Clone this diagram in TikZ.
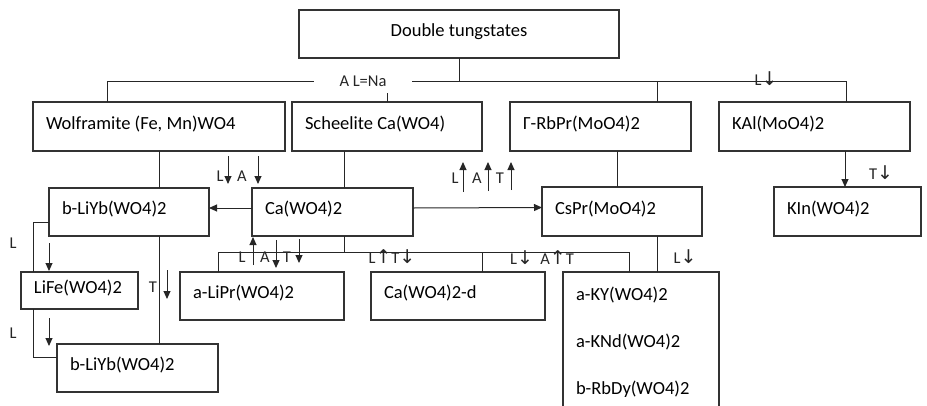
\documentclass[tikz,border=0pt]{standalone}
\usepackage{fontspec}
\setmainfont{Carlito}
\newfontfamily\arrowfont{DejaVu Sans}[Scale=1.15]
\usetikzlibrary{arrows.meta}
\newcommand\arup{{\arrowfont ↑}}
\newcommand\ardn{{\arrowfont ↓}}
\tikzset{
  base/.style={draw=black!80,line width=1.1pt,anchor=north west,outer sep=0pt,
    inner xsep=13pt,inner ysep=0pt,align=flush left,font=\fontsize{18.5}{22}\selectfont},
  box/.style={base,text height=14pt,text depth=8.5pt},
  ln/.style={line width=1pt,black!85},
  ar/.style={ln,-{Triangle[length=8pt,width=7pt]}},
  tag/.style={inner sep=0pt,text=black!85,font=\fontsize{16.5}{18}\selectfont}
}

\begin{document}
\begin{tikzpicture}[x=1pt,y=-1pt]
\useasboundingbox (0,0) rectangle (927,405);
\clip (0,0) rectangle (927,405);
% top rows
\node[box,align=flush center,text width=294pt,minimum height=48pt] (dt) at (299,10) {Double tungstates};
\node[box,text width=226pt,minimum height=49pt] (wolf) at (33,102) {Wolframite (Fe, Mn)WO4};
\node[box,text width=164pt,minimum height=49pt] (sch) at (292,102) {Scheelite Ca(WO4)};
\node[box,text width=155pt,minimum height=49pt] (rbpr) at (510,102) {Γ-RbPr(MoO4)2};
\node[box,text width=165pt,minimum height=49pt] (kal) at (719,102) {KAl(MoO4)2};
% second row
\node[box,text width=134pt,minimum height=48pt] (liyb) at (49,188) {b-LiYb(WO4)2};
\node[box,text width=135pt,minimum height=48pt] (ca) at (252,188) {Ca(WO4)2};
\node[box,text width=134pt,minimum height=49pt] (cspr) at (542,187) {CsPr(MoO4)2};
\node[box,text width=121pt,minimum height=49pt] (kin) at (774,187) {KIn(WO4)2};
% third row
\node[box,text width=91pt,minimum height=37pt] (life) at (21,272) {LiFe(WO4)2};
\node[box,text width=138pt,minimum height=48pt] (lipr) at (180,272) {a-LiPr(WO4)2};
\node[box,text width=148pt,minimum height=48pt] (cad) at (371,272) {Ca(WO4)2-d};
\node[base,text width=130pt,minimum height=140pt,font=\fontsize{18.5}{47}\selectfont] (aky) at (563,272)
  {a-KY(WO4)2\\a-KNd(WO4)2\\b-RbDy(WO4)2};
\node[box,text width=135pt,minimum height=48pt] (liyb2) at (57,344) {b-LiYb(WO4)2};

% upper bus
\coordinate (b1) at (107,81);
\coordinate (b2) at (657,81);
\coordinate (b3) at (846,81);
\node[tag,minimum width=98pt,minimum height=24pt] (alna) at (363,81) {A L=Na};
\draw[ln] (dt.south) -- (dt.south |- b1);
\draw[ln] (wolf.north -| b1) -- (b1) -- (alna.west);
\draw[ln] (alna.east) -- (b3) -- (kal.north -| b3);
\draw[ln] (b2) -- (rbpr.north -| b2);
\draw[ln] (alna.south -| sch.north) -- (sch.north);

% links between rows
\coordinate (cx) at (344,0);
\coordinate (rx) at (617,0);
\coordinate (kx) at (845,0);
\draw[ln] (wolf.south) -- (wolf.south |- liyb.north);
\draw[ln] (wolf.south |- liyb.south) -- (wolf.south |- liyb2.north);
\draw[ln] (cx |- sch.south) -- (cx |- ca.north);
\draw[ln] (rx |- rbpr.south) -- (rx |- cspr.north);
\draw[ar] (kx |- kal.south) -- (kx |- kin.north);
\draw[ln] (b2 |- cspr.south) -- (b2 |- aky.north);
\draw[ar] ([yshift=4pt]ca.west) -- ([yshift=4pt]liyb.east);
\draw[ar] ([yshift=4pt]ca.east) -- ([yshift=4pt]cspr.west);

% lower bus
\coordinate (t1) at (218,252);
\coordinate (t2) at (482,252);
\coordinate (t3) at (629,252);
\draw[ln] (cx |- ca.south) -- (cx |- t1);
\draw[ln] (t1 |- lipr.north) -- (t1) -- (t3) -- (t3 |- aky.north);
\draw[ln] (t2) -- (t2 |- cad.north);

% left chain
\coordinate (lx) at (33,0);
\coordinate (ly1) at (0,222);
\coordinate (ly2) at (0,357);
\draw[ln] (liyb.west |- ly1) -| (lx |- life.north);
\draw[ln] (lx |- life.south) |- (liyb2.west |- ly2);

% small arrows
\foreach \ax/\ya/\yb in {228/156/184,258/156/184,463/192/162,488/191/162,511/190/162,
  49/243/271,49/318/346,167/270/299,253/265/237,276/240/268,299/239/263}
  \draw[ar] (\ax,\ya) -- (\ax,\yb);

% letters
\foreach \lx/\ly/\lt [count=\i] in {220/176/L,242/176/A,455/178/L,477/178/A,500/178/T,
  13/243/L,13/333/L,153/287/T,242/257/L,265/257/A,287/257/T}
  \node[tag] (lab\i) at (\lx,\ly) {\lt};
\node[tag] (lt1) at (766,79) {L\ardn};
\node[tag] (lt2) at (881,173) {T\ardn};
\node[tag] (lt3) at (392,257) {L\arup T\ardn};
\node[tag] (lt4) at (542,258) {L\ardn\ \ A\arup T};
\node[tag] (lt5) at (685,257) {L\ardn};
\end{tikzpicture}
\end{document}
